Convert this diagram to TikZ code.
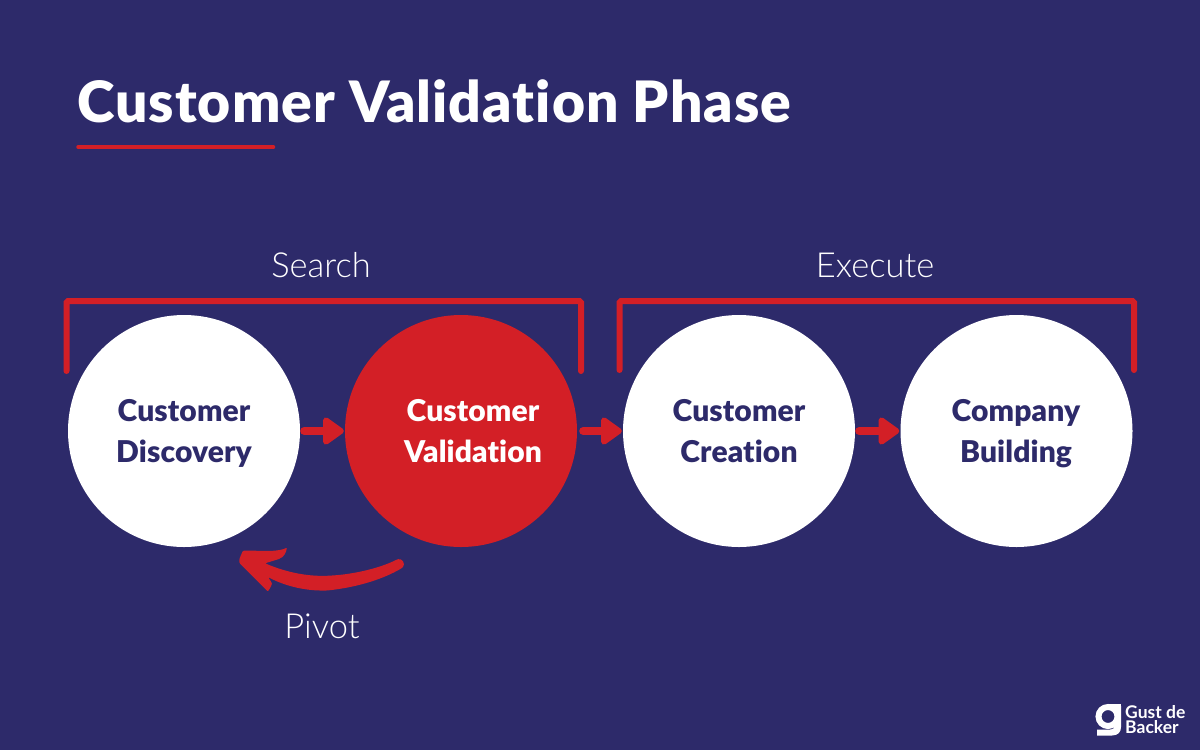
\documentclass[tikz,border=0pt]{standalone}
\usepackage{fontspec}
\setmainfont[BoldFont={Lato Black},Ligatures=NoCommon]{Lato Light}
\newfontfamily\semi[Ligatures=NoCommon]{Lato Bold}
\newfontfamily\titlefont[Ligatures=NoCommon,LetterSpace=1.8]{Lato Black}
\newfontfamily\stagefont[Ligatures=NoCommon,LetterSpace=0.4]{Lato Black}
\usetikzlibrary{arrows.meta}
\definecolor{navy}{HTML}{2D2A6A}
\definecolor{brandred}{HTML}{D31F26}
\newcommand{\twolines}[2]{#1\\#2\vphantom{g}}
\tikzset{
 stagebase/.style={circle,minimum size=232pt,inner sep=0pt},
 stage/.style={stagebase,fill=white},
 stagehot/.style={stagebase,fill=brandred},
 stagetext/.style={align=center,inner sep=0pt,font=\stagefont\fontsize{30}{41}\selectfont},
 flowarrow/.style={draw=brandred,line width=8pt,line cap=round,-{Triangle[length=23pt,width=31pt,round]}},
 bracket/.style={draw=brandred,line width=6pt,line cap=round,rounded corners=1.5pt},
 caption/.style={text=white,font=\fontsize{34.5}{38}\selectfont,inner sep=0pt,anchor=base},
}
\begin{document}
\begin{tikzpicture}[x=1pt,y=-1pt]
\fill[navy] (0,0) rectangle (1200,750);
\useasboundingbox (0,0) rectangle (1200,750);
\node[text=white,font=\titlefont\fontsize{57}{60}\selectfont,inner sep=0pt,anchor=base west] (title) at (77,122) {Customer Validation Phase};
\draw[brandred,line width=3.5pt,line cap=round] (78,147) coordinate (ula) -- (273.5,147) coordinate (ulb);
\node[caption] (search) at (321,277) {Search};
\node[caption] (execute) at (875,277) {Execute};
\node[caption] (pivot) at (322,638.5) {Pivot};
\draw[bracket] (66.5,371) -- (66.5,301) -- (581,301) -- (581,371);
\draw[bracket] (619.5,370) -- (619.5,301) -- (1134,301) -- (1134,370);
\node[stage] (cd) at (184,431) {};
\node[stagehot] (cv) at (461,431) {};
\node[stage] (cc) at (739,431) {};
\node[stage] (cb) at (1016.5,431) {};
\node[stagetext,text=navy] (cdt) at (184,434) {\twolines{Customer}{Discovery}};
\node[stagetext,text=white] (cvt) at (473,434) {\twolines{Customer}{Validation}};
\node[stagetext,text=navy] (cct) at (739,434) {\twolines{Customer}{Creation}};
\node[stagetext,text=navy] (cbt) at (1016,434) {\twolines{Company}{Building}};
\draw[flowarrow,shorten <=4pt,shorten >=1pt] (cd) -- (cv);
\draw[flowarrow,shorten <=6pt,shorten >=1pt] (cv) -- (cc);
\draw[flowarrow,shorten <=4pt,shorten >=1pt] (cc) -- (cb);
% pivot arrow
\fill[brandred,rounded corners=1.2pt] (239.3,559) -- (243,550.5) -- (270,551) .. controls (278,550.5) and (284,549.5) .. (287,547.3)
 .. controls (286,553) and (284,557) .. (278,559.3) -- (265,563.3)
 .. controls (288,573) and (310,577) .. (332,575.5)
 .. controls (355,574) and (380,568) .. (397,559.5)
 .. controls (402,558) and (406,564) .. (402,568)
 .. controls (385,578) and (360,587) .. (327,590.5)
 .. controls (305,591) and (285,586) .. (268,577)
 .. controls (270,580) and (272,583) .. (271.7,585) -- (268,591.7) -- (239.3,563) -- cycle;
% logo
\draw[white,line width=6pt] (1108,716.5) circle (9.5pt);
\fill[white] (1108,703.5) rectangle (1121,709.5);
\fill[white] (1115,706) -- (1121,706) -- (1121,727) .. controls (1121,732) and (1118,735.5) .. (1112,735.5) -- (1097,735.5) -- (1097,729.5) -- (1110,729.5) .. controls (1113.5,729.5) and (1115,727.5) .. (1115,725) -- cycle;
\node[text=white,font=\semi\fontsize{17.5}{14}\selectfont,align=left,inner sep=0pt,anchor=base west] (logoa) at (1125,718.5) {Gust de};
\node[text=white,font=\semi\fontsize{17.5}{14}\selectfont,align=left,inner sep=0pt,anchor=base west] (logob) at (1125,733.5) {Backer};
\end{tikzpicture}
\end{document}
